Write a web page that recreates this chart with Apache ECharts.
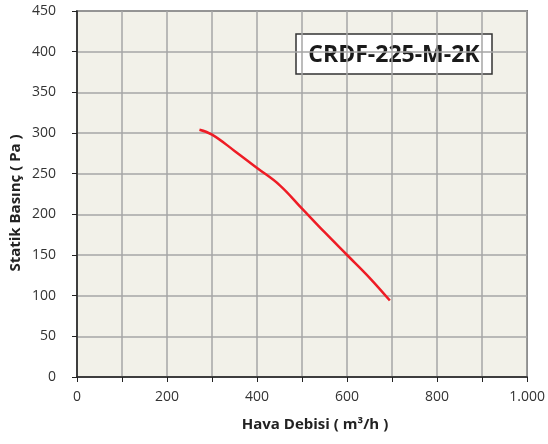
<!DOCTYPE html>
<html><head><meta charset="utf-8">
<script src="https://cdn.jsdelivr.net/npm/echarts@6/dist/echarts.min.js"></script>
<style>html,body{margin:0;padding:0;background:#fff}#c{width:548px;height:444px}</style>
</head><body><div id="c"></div>
<script>
const flowValues = [272, 300, 350, 400, 450, 500, 550, 600, 650, 695];
const pressureValues = [304, 298, 278, 257, 236, 207, 178, 150, 122, 94];
const modelLabel = "CRDF-225-M-2K";
const xTitle = "Hava Debisi ( m³/h )";
const yTitle = "Statik Basınç ( Pa )";

const chart = echarts.init(document.getElementById('c'), null, {renderer: 'canvas'});
const font = "'Open Sans', 'DejaVu Sans', sans-serif";
chart.setOption({
  animation: false,
  backgroundColor: '#ffffff',
  grid: {left: 77, right: 16, top: 11, bottom: 67, show: true, backgroundColor: '#f2f1e9', borderColor: '#333', borderWidth: 1.5},
  xAxis: {
    type: 'value', min: 0, max: 1000, interval: 100,
    axisLine: {show: true, onZero: false, lineStyle: {color: '#222', width: 1.5}},
    axisTick: {show: true, length: 5, interval: 0, lineStyle: {color: '#222'}},
    splitLine: {show: true, lineStyle: {color: '#a6a6a6', width: 1.5}},
    axisLabel: {
      margin: 13, color: '#333', fontSize: 14, fontFamily: font,
      formatter: v => (v % 200 === 0 ? (v >= 1000 ? '1.000' : String(v)) : '')
    }
  },
  yAxis: {
    type: 'value', min: 0, max: 450, interval: 50,
    axisLine: {show: true, onZero: false, lineStyle: {color: '#222', width: 1.5}},
    axisTick: {show: true, length: 5, lineStyle: {color: '#222'}},
    splitLine: {show: true, lineStyle: {color: '#a6a6a6', width: 1.5}},
    axisLabel: {margin: 21, color: '#333', fontSize: 14, fontFamily: font}
  },
  graphic: [
    {type: 'text', x: 315, y: 425, style: {text: xTitle, font: "bold 15px " + font, fill: '#222', align: 'center', verticalAlign: 'middle'}},
    {type: 'text', x: 16, y: 203, rotation: Math.PI / 2, style: {text: yTitle, font: "bold 15px " + font, fill: '#222', align: 'center', verticalAlign: 'middle'}},
    {type: 'rect', shape: {x: 296, y: 34, width: 196, height: 40}, style: {fill: '#fff', stroke: '#333', lineWidth: 1.5}},
    {type: 'text', x: 394, y: 55, style: {text: modelLabel, font: "bold 23px 'Open Sans', sans-serif", fill: '#1a1a1a', align: 'center', verticalAlign: 'middle'}}
  ],
  series: [{
    type: 'line', smooth: 0.4, symbol: 'none',
    lineStyle: {color: '#ee1c25', width: 2.5},
    data: flowValues.map((f, i) => [f, pressureValues[i]])
  }]
});
</script></body></html>
